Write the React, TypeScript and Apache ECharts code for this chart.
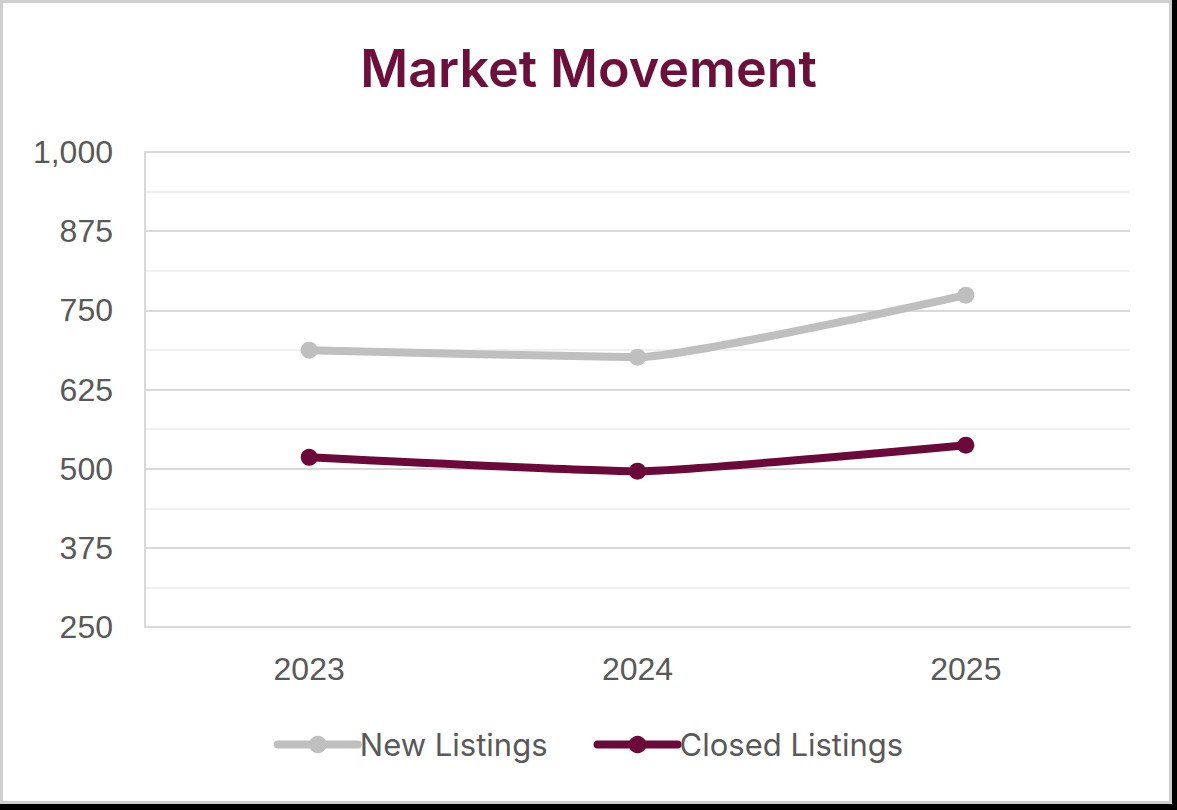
import React, { useEffect, useRef } from "react";
import * as echarts from "echarts";

const years = ["2023", "2024", "2025"];
const newListings = [687, 676, 774];
const closedListings = [518, 496, 537];
const yMin = 250;
const yMax = 1000;
const yInterval = 125;

export default function App() {
  const ref = useRef<HTMLDivElement>(null);
  useEffect(() => {
    if (!ref.current) return;
    const chart = echarts.init(ref.current, undefined, { renderer: "svg" });
    chart.setOption({
      animation: false,
      backgroundColor: "transparent",
      title: {
        text: "Market Movement",
        left: "center",
        top: 37,
        textStyle: {
          fontFamily: "Inter",
          fontWeight: 600,
          fontSize: 52,
          color: "#6b0f3b",
        },
      },
      grid: { left: 145, right: 47, top: 152, bottom: 183 },
      xAxis: {
        type: "category",
        data: years,
        boundaryGap: true,
        axisLine: { show: true, lineStyle: { color: "#d9d9d9", width: 2 } },
        axisTick: { show: false },
        axisLabel: {
          fontFamily: "Liberation Sans",
          fontSize: 32,
          color: "#595959",
          margin: 26,
        },
      },
      yAxis: {
        type: "value",
        min: yMin,
        max: yMax,
        interval: yInterval,
        axisLine: { show: true, lineStyle: { color: "#d9d9d9", width: 2 } },
        axisTick: { show: false },
        axisLabel: {
          fontFamily: "Liberation Sans",
          fontSize: 32,
          color: "#595959",
          margin: 32,
          formatter: (v: number) => v.toLocaleString("en-US"),
        },
        splitLine: { show: true, lineStyle: { color: "#d9d9d9", width: 2 } },
        minorTick: { show: false, splitNumber: 2 },
        minorSplitLine: { show: true, lineStyle: { color: "#f0f0f0", width: 2 } },
      },
      legend: {
        bottom: 45,
        left: "center",
        itemWidth: 80,
        itemHeight: 22,
        itemGap: 46,
        lineStyle: { width: 8, cap: "round" },
        itemStyle: { borderWidth: 0 },
        textStyle: {
          fontFamily: "Inter",
          fontSize: 31,
          color: "#595959",
          padding: [0, 0, 0, -3],
        },
        data: ["New Listings", "Closed Listings"],
      },
      series: [
        {
          name: "New Listings",
          type: "line",
          data: newListings,
          smooth: 0.15,
          symbol: "circle",
          symbolSize: 17,
          lineStyle: { width: 8, color: "#bfbfbf", cap: "round" },
          itemStyle: { color: "#bfbfbf" },
        },
        {
          name: "Closed Listings",
          type: "line",
          data: closedListings,
          smooth: 0.15,
          symbol: "circle",
          symbolSize: 17,
          lineStyle: { width: 8, color: "#6b0a3a", cap: "round" },
          itemStyle: { color: "#6b0a3a" },
        },
      ],
    });
    return () => chart.dispose();
  }, []);

  return (
    <div style={{ position: "fixed", left: 0, top: 0, width: 1177, height: 810, background: "#000" }}>
      <div
        style={{
          position: "absolute",
          left: 0,
          top: 0,
          width: 1172,
          height: 804,
          boxSizing: "border-box",
          border: "3px solid #cfcfcf",
          background: "#fff",
        }}
      />
      <div ref={ref} style={{ position: "absolute", left: 0, top: 0, width: 1177, height: 810 }} />
    </div>
  );
}
